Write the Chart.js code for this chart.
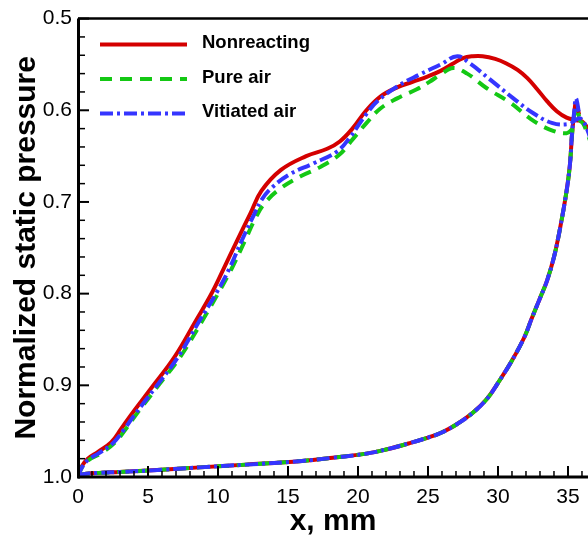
<!DOCTYPE html>
<html><head><meta charset="utf-8">
<script src="https://cdn.jsdelivr.net/npm/chart.js@4"></script>
<style>html,body{margin:0;padding:0;background:#fff}#wrap{width:588px;height:537px;position:relative}</style>
</head><body><div id="wrap"><canvas id="c"></canvas></div>
<script>
const seriesNames = ['Nonreacting', 'Pure air', 'Vitiated air'];
const xTickValues = [0, 5, 10, 15, 20, 25, 30, 35];
const yTickValues = [0.5, 0.6, 0.7, 0.8, 0.9, 1.0];

// upper surface (low pressure branch), x in mm, normalized static pressure
const nonreactingUpper = [[0,1.0],[0.24,0.989],[0.7,0.98],[1.43,0.9725],[2.38,0.962],[3.1,0.947],[3.8,0.932],[5.24,0.903],[6.9,0.869],[8.4,0.830],[9.5,0.801],[10.4,0.773],[11.4,0.741],[12.3,0.713],[13.1,0.688],[14.5,0.665],[16.3,0.650],[17.8,0.642],[18.7,0.634],[19.6,0.620],[20.6,0.600],[21.6,0.585],[22.8,0.575],[23.9,0.569],[25.0,0.563],[25.9,0.557],[26.8,0.549],[27.5,0.543],[28.2,0.541],[28.9,0.541],[29.8,0.544],[30.6,0.549],[31.4,0.556],[32.1,0.565],[32.8,0.577],[33.5,0.590],[34.2,0.601],[34.9,0.608],[35.6,0.611],[36.0,0.612],[36.4,0.620],[36.8,0.640]];
const pureAirUpper = [[0,1.0],[0.3,0.989],[0.8,0.981],[1.6,0.9745],[2.6,0.963],[3.4,0.948],[4.1,0.933],[5.6,0.903],[7.3,0.869],[8.9,0.829],[10.0,0.800],[11.0,0.772],[11.9,0.743],[12.7,0.717],[13.3,0.702],[14.4,0.686],[15.9,0.672],[17.3,0.662],[18.7,0.648],[19.6,0.632],[20.6,0.614],[21.6,0.598],[22.8,0.587],[24.2,0.577],[25.1,0.569],[25.9,0.561],[26.8,0.554],[27.8,0.560],[29.2,0.576],[30.9,0.592],[32.3,0.609],[33.7,0.621],[34.9,0.625],[35.4,0.619],[35.9,0.612],[36.4,0.626],[36.8,0.645]];
const vitiatedAirUpper = [[0,1.0],[0.3,0.989],[0.75,0.981],[1.5,0.974],[2.5,0.963],[3.3,0.948],[4.0,0.933],[5.5,0.903],[7.15,0.869],[8.7,0.829],[9.86,0.800],[10.8,0.773],[11.7,0.742],[12.6,0.713],[13.1,0.698],[13.8,0.685],[15.1,0.670],[16.8,0.658],[18.5,0.645],[19.4,0.630],[20.6,0.604],[21.4,0.590],[22.8,0.574],[24.4,0.561],[25.9,0.550],[27.1,0.541],[28.0,0.549],[29.4,0.566],[31.1,0.587],[32.5,0.603],[33.9,0.614],[35.1,0.615],[35.5,0.611],[35.9,0.609],[36.4,0.622],[36.8,0.642]];

// lower surface (high pressure branch)
const nonreactingLower = [[0,1.0],[0.2,0.998],[0.6,0.9965],[1.5,0.9955],[3,0.9945],[5,0.993],[8.7,0.9895],[12,0.9865],[16,0.9825],[18.2,0.979],[20.6,0.9745],[22,0.970],[23.7,0.963],[25,0.957],[25.9,0.952],[27,0.943],[28.2,0.930],[29.2,0.915],[30.1,0.895],[31,0.873],[31.9,0.847],[32.4,0.8275],[33,0.805],[33.5,0.786],[34,0.760],[34.4,0.7315],[34.9,0.688],[35.14,0.659],[35.3,0.624],[35.45,0.603],[35.57,0.592],[35.8,0.605]];
const pureAirLower = [[0,1.0],[0.2,0.998],[0.6,0.9965],[1.5,0.9955],[3,0.9945],[5,0.993],[8.7,0.9895],[12,0.9865],[16,0.9825],[18.2,0.979],[20.6,0.9745],[22,0.970],[23.7,0.963],[25,0.957],[25.9,0.952],[27,0.943],[28.2,0.930],[29.2,0.915],[30.1,0.895],[31,0.873],[31.9,0.847],[32.4,0.8275],[33,0.805],[33.5,0.786],[34,0.760],[34.4,0.7315],[34.9,0.688],[35.14,0.659],[35.3,0.625],[35.45,0.605],[35.57,0.597],[35.8,0.607]];
const vitiatedAirLower = [[0,1.0],[0.2,0.998],[0.6,0.9965],[1.5,0.9955],[3,0.9945],[5,0.993],[8.7,0.9895],[12,0.9865],[16,0.9825],[18.2,0.979],[20.6,0.9745],[22,0.970],[23.7,0.963],[25,0.957],[25.9,0.952],[27,0.943],[28.2,0.930],[29.2,0.915],[30.1,0.895],[31,0.873],[31.9,0.847],[32.4,0.8275],[33,0.805],[33.5,0.786],[34,0.760],[34.4,0.7315],[34.9,0.688],[35.14,0.659],[35.3,0.623],[35.45,0.601],[35.57,0.587],[35.8,0.604]];

const FONT = "'Liberation Sans', Arial, Helvetica, sans-serif";

function loop(upper, lower) {
  return upper.map(([x, y]) => ({x, y}))
    .concat([{x: null, y: null}])
    .concat(lower.map(([x, y]) => ({x, y})));
}

const frame = {
  id: 'frame',
  afterDatasetsDraw(chart) {
    const {ctx, chartArea: a, scales: {x, y}} = chart;
    ctx.save();
    ctx.strokeStyle = '#000';
    ctx.lineCap = 'butt';
    const seg = (x1, y1, x2, y2) => { ctx.beginPath(); ctx.moveTo(x1, y1); ctx.lineTo(x2, y2); ctx.stroke(); };
    ctx.lineWidth = 2;
    xTickValues.forEach(v => { const p = x.getPixelForValue(v); seg(p, a.bottom, p, a.bottom - 11); });
    ctx.lineWidth = 1.5;
    for (let v = 0; v <= 36; v++) { if (v % 5 !== 0) { const p = x.getPixelForValue(v); seg(p, a.bottom, p, a.bottom - 6); } }
    ctx.lineWidth = 2;
    yTickValues.forEach(v => { const p = y.getPixelForValue(v); seg(a.left, p, a.left + 11, p); });
    ctx.lineWidth = 1.5;
    for (let i = 0; i <= 25; i++) { if (i % 5 !== 0) { const p = y.getPixelForValue(0.5 + i * 0.02); seg(a.left, p, a.left + 7, p); } }
    ctx.lineWidth = 3;
    seg(a.left + 0.5, a.top, a.left + 0.5, a.bottom + 1.5);
    seg(a.left, a.bottom, a.right, a.bottom);
    ctx.lineWidth = 2.5;
    seg(a.left, a.top, a.right, a.top);
    ctx.restore();
  },
  afterDraw(chart) {
    const {ctx, chartArea: a} = chart;
    ctx.save();
    ctx.font = 'bold 18.5px ' + FONT;
    ctx.fillStyle = '#000';
    ctx.textBaseline = 'middle';
    ctx.textAlign = 'left';
    const x0 = a.left + 22, x1 = a.left + 109, tx = a.left + 124;
    seriesNames.forEach((name, i) => {
      const ds = chart.data.datasets[i];
      const yy = a.top + 26 + i * 34.5;
      ctx.strokeStyle = ds.borderColor;
      ctx.lineWidth = ds.borderWidth;
      ctx.setLineDash(ds.borderDash || []);
      ctx.beginPath(); ctx.moveTo(x0, yy); ctx.lineTo(x1, yy); ctx.stroke();
      ctx.setLineDash([]);
      ctx.fillText(name, tx, yy - 1.5);
    });
    ctx.restore();
  }
};

new Chart(document.getElementById('c'), {
  type: 'scatter',
  data: {
    datasets: [
      {label: seriesNames[0], data: loop(nonreactingUpper, nonreactingLower), borderColor: '#d40000', borderWidth: 4, order: 3},
      {label: seriesNames[1], data: loop(pureAirUpper, pureAirLower), borderColor: '#14c814', borderWidth: 4, borderDash: [12, 8], order: 2},
      {label: seriesNames[2], data: loop(vitiatedAirUpper, vitiatedAirLower), borderColor: '#3535ff', borderWidth: 4, borderDash: [13, 4, 3, 4], order: 1}
    ]
  },
  options: {
    responsive: true, maintainAspectRatio: false, animation: false,
    showLine: true,
    layout: {padding: {top: 17, right: 0, left: 0, bottom: 0}},
    plugins: {legend: {display: false}, tooltip: {enabled: false}},
    elements: {point: {radius: 0, hoverRadius: 0}, line: {tension: 0.4, borderCapStyle: 'butt', fill: false}},
    scales: {
      x: {
        type: 'linear', position: 'bottom', min: 0, max: 36.43,
        afterBuildTicks: s => { s.ticks = xTickValues.map(v => ({value: v})); },
        afterFit: s => { s.height = 60; },
        grid: {display: false, drawTicks: false},
        border: {display: false},
        ticks: {font: {family: FONT, size: 21}, color: '#000', padding: 8, maxRotation: 0, autoSkip: false, callback: v => String(v)},
        title: {display: true, text: 'x, mm', color: '#000', font: {family: FONT, size: 30, weight: 'bold', lineHeight: 1.2}, padding: {top: 0, bottom: -3}}
      },
      y: {
        type: 'linear', position: 'left', min: 0.5, max: 1.0, reverse: true,
        afterBuildTicks: s => { s.ticks = yTickValues.map(v => ({value: v})); },
        afterFit: s => { s.width = 78; },
        grid: {display: false, drawTicks: false},
        border: {display: false},
        ticks: {font: {family: FONT, size: 21}, color: '#000', padding: 6, autoSkip: false, callback: v => Number(v).toFixed(1)},
        title: {display: true, text: 'Normalized static pressure', color: '#000', font: {family: FONT, size: 30, weight: 'bold', lineHeight: 1.2}, padding: {top: 9, bottom: 0}}
      }
    }
  },
  plugins: [frame]
});
</script>
</body></html>
